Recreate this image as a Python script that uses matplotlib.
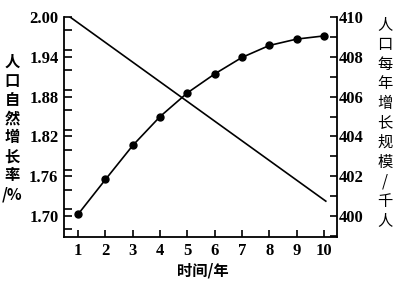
import matplotlib.pyplot as plt
from matplotlib.ticker import MultipleLocator

years = [1, 2, 3, 4, 5, 6, 7, 8, 9, 10]
scale = [400.10, 401.84, 403.55, 405.00, 406.19, 407.14, 407.97, 408.57, 408.89, 409.05]
rate_x = [0.70, 10.07]
rate_y = [2.00, 1.7225]
rate_ticks = [1.70, 1.76, 1.82, 1.88, 1.94, 2.00]
scale_ticks = [400, 402, 404, 406, 408, 410]

num_font = {"family": "Liberation Serif", "size": 12, "weight": "bold"}
cjk = ["Noto Sans CJK SC", "DejaVu Sans"]

fig = plt.figure(figsize=(4.08, 2.84), dpi=100)
ax = fig.add_axes([64 / 408, 1 - 237 / 284, 273 / 408, 220 / 284])
ax2 = ax.twinx()

ax.plot(rate_x, rate_y, color="black", lw=1.2)
ax2.plot(years, scale, color="black", lw=1.2, marker="o", markersize=5)

ax.set_xlim(0.48, 10.48)
ax.set_ylim(1.6685, 2.00)
ax2.set_ylim(398.95, 410)

ax.set_xticks(years)
ax.set_yticks(rate_ticks)
ax.yaxis.set_minor_locator(MultipleLocator(0.03))
ax2.set_yticks(scale_ticks)
ax2.yaxis.set_minor_locator(MultipleLocator(1))

for a in (ax, ax2):
    a.spines["top"].set_visible(False)
    for s in a.spines.values():
        s.set_linewidth(1.3)
ax.spines["right"].set_visible(False)
ax2.spines["left"].set_visible(False)
ax2.spines["bottom"].set_visible(False)

ax.tick_params(axis="x", direction="in", length=5, width=1.2, pad=4)
ax.tick_params(axis="y", which="both", direction="in", length=6, width=1.2, pad=4)
ax2.tick_params(axis="y", which="both", direction="in", length=5, width=1.2, pad=1)

ax.set_xticklabels([str(y) for y in years], fontdict=num_font)
ax.set_yticklabels([f"{v:.2f}" for v in rate_ticks], fontdict=num_font)
ax2.set_yticklabels([str(v) for v in scale_ticks], fontdict=num_font)

left_label = ["人", "口", "自", "然", "增", "长", "率", "/%"]
right_label = ["人", "口", "每", "年", "增", "长", "规", "模", "/", "千", "人"]
fig.text(12 / 408, 1 - 128 / 284, "\n".join(left_label), family=cjk, fontsize=11,
         fontweight="bold", ha="center", va="center", linespacing=1.22)
fig.text(385 / 408, 1 - 123 / 284, "\n".join(right_label), family=cjk, fontsize=11,
         ha="center", va="center", linespacing=1.2)
fig.text(203 / 408, 1 - 270 / 284, "时间/年", family=cjk, fontsize=11,
         fontweight="bold", ha="center", va="center")

fig.savefig("out.png", dpi=100)
